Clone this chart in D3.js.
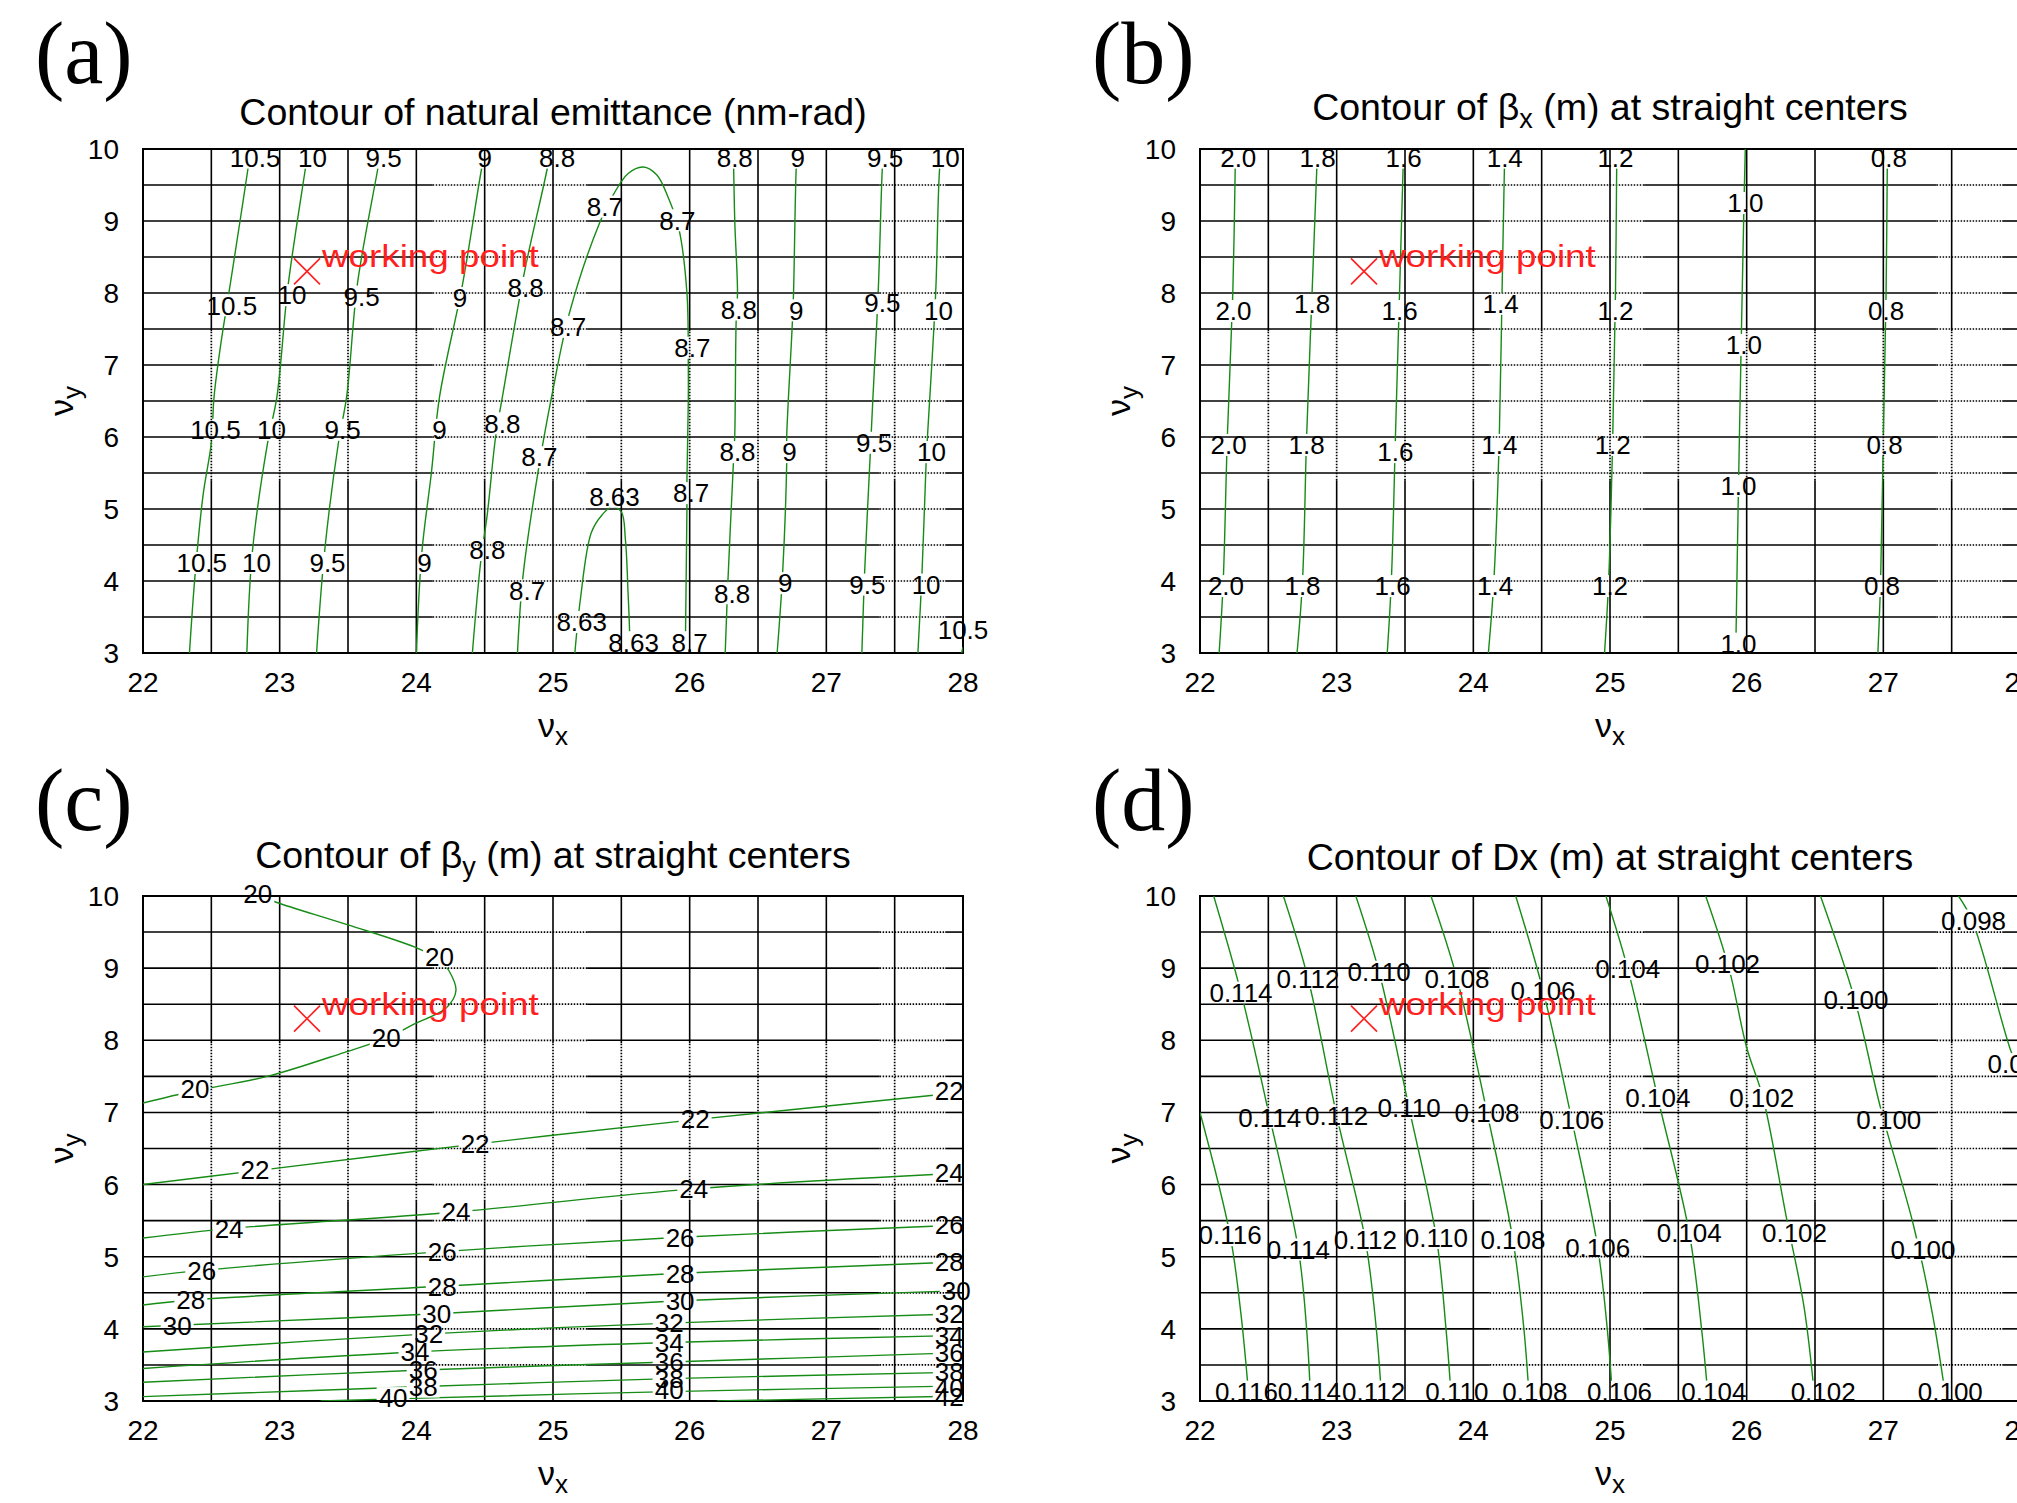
<!DOCTYPE html>
<html>
<head>
<meta charset="utf-8">
<script src="https://cdn.jsdelivr.net/npm/d3@7"></script>
<style>
  body { margin: 0; background: #fff; }
  text { font-family: "Liberation Sans", Arial, sans-serif; fill: #000; }
  .solid { stroke: #000; stroke-width: 1.6; }
  .dot { stroke: #000; stroke-width: 1.7; stroke-dasharray: 1.5 1.5; }
</style>
</head>
<body>
<svg id="fig" width="2017" height="1503"></svg>
<script>
// ---- axes ----
const xTickValues = [22, 23, 24, 25, 26, 27, 28];
const yTickValues = [3, 4, 5, 6, 7, 8, 9, 10];
const gridXValues = [22.5, 23, 23.5, 24, 24.5, 25, 25.5, 26, 26.5, 27, 27.5];
const gridYValues = [3.5, 4, 4.5, 5, 5.5, 6, 6.5, 7, 7.5, 8, 8.5, 9, 9.5];
const workingPoint = [23.2, 8.3];

// ---- (a) natural emittance (nm-rad) ----
const emittanceLines = [
  { level: "10.5", pts: [[22.34,3],[22.38,4.06],[22.44,5.2],[22.50,5.92],[22.52,6.56],[22.57,7.3],[22.64,8.14],[22.71,9.0],[22.77,9.75],[22.79,10]] },
  { level: "10",   pts: [[22.76,3],[22.80,4.4],[22.91,5.9],[22.98,6.56],[23.06,8.08],[23.19,9.75],[23.21,10]] },
  { level: "9.5",  pts: [[23.27,3],[23.33,4.43],[23.43,5.92],[23.49,6.56],[23.57,8.14],[23.72,9.75],[23.74,10]] },
  { level: "9",    pts: [[24.0,3],[24.04,4.39],[24.11,5.5],[24.17,6.56],[24.34,8.14],[24.48,9.75],[24.51,10]] },
  { level: "8.8",  pts: [[24.41,3],[24.47,4.25],[24.52,4.94],[24.58,6.0],[24.63,6.56],[24.79,8.28],[24.96,9.75],[24.98,10]] },
  { level: "8.7",  pts: [[24.74,3],[24.78,4.06],[24.89,5.51],[24.99,6.56],[25.12,7.72],[25.34,8.97],[25.44,9.36],[25.55,9.66],[25.66,9.75],[25.76,9.64],[25.84,9.34],[25.92,8.9],[25.98,8.0],[25.99,7.0],[25.99,6.5],[25.98,5.4],[25.98,5.0],[25.97,3.32],[25.97,3]] },
  { level: "8.63", pts: [[25.16,3],[25.20,3.74],[25.28,4.67],[25.36,4.92],[25.43,5.03],[25.50,4.96],[25.53,4.57],[25.55,3.8],[25.56,3.32],[25.56,3]] },
  { level: "8.8",  pts: [[26.26,3],[26.28,4.0],[26.32,5.64],[26.33,6.03],[26.34,7.6],[26.35,8.0],[26.33,9.0],[26.32,10]] },
  { level: "9",    pts: [[26.64,3],[26.68,4.1],[26.71,5.64],[26.71,6.0],[26.75,7.53],[26.76,8.0],[26.78,9.75],[26.79,10]] },
  { level: "9.5",  pts: [[27.26,3],[27.28,4.11],[27.32,5.71],[27.34,6.51],[27.38,8.04],[27.41,9.75],[27.42,10]] },
  { level: "10",   pts: [[27.67,3],[27.70,4.11],[27.73,5.64],[27.74,6.0],[27.80,8.0],[27.83,9.75],[27.85,10]] },
  { level: "10.5", pts: [[27.99,3],[28.0,3.08]] }
];
const emittanceLabels = [
  ["10.5",22.82,9.88],["10",23.24,9.88],["9.5",23.76,9.88],["9",24.5,9.88],["8.8",25.03,9.88],
  ["8.8",26.33,9.88],["9",26.79,9.88],["9.5",27.43,9.88],["10",27.87,9.88],
  ["10.5",22.65,7.83],["10",23.09,7.97],["9.5",23.6,7.95],["9",24.32,7.93],["8.8",24.8,8.07],
  ["8.7",25.38,9.2],["8.7",25.91,9.01],["8.7",25.11,7.53],["8.7",26.02,7.24],
  ["8.8",26.36,7.77],["9",26.78,7.76],["9.5",27.41,7.86],["10",27.82,7.76],
  ["10.5",22.53,6.1],["10",22.94,6.1],["9.5",23.46,6.1],["9",24.17,6.1],["8.8",24.63,6.19],["8.7",24.9,5.72],
  ["8.63",25.45,5.17],["8.7",26.01,5.22],["8.8",26.35,5.79],["9",26.73,5.79],["9.5",27.35,5.92],["10",27.77,5.79],
  ["10.5",22.43,4.25],["10",22.83,4.25],["9.5",23.35,4.25],["9",24.06,4.25],["8.8",24.52,4.43],["8.7",24.81,3.87],
  ["8.63",25.21,3.43],["8.63",25.59,3.15],["8.7",26.0,3.15],["8.8",26.31,3.83],["9",26.7,3.97],
  ["9.5",27.3,3.95],["10",27.73,3.95],["10.5",28.0,3.33]
];

// ---- (b) beta_x (m) at straight centers ----
const betaXLines = [
  { level: "2.0", pts: [[22.14,3],[22.17,4],[22.2,6],[22.24,8],[22.26,10]] },
  { level: "1.8", pts: [[22.71,3],[22.75,4],[22.78,6],[22.82,8],[22.86,10]] },
  { level: "1.6", pts: [[23.37,3],[23.40,4],[23.43,6],[23.46,8],[23.49,10]] },
  { level: "1.4", pts: [[24.11,3],[24.15,4],[24.19,6],[24.21,8],[24.23,10]] },
  { level: "1.2", pts: [[24.96,3],[24.99,4],[25.02,6],[25.04,8],[25.05,10]] },
  { level: "1.0", pts: [[25.92,3],[25.94,5.3],[25.96,7.3],[25.98,9.2],[25.99,10]] },
  { level: "0.8", pts: [[26.96,3],[26.98,4],[27.0,6],[27.02,8],[27.03,10]] }
];
const betaXLabels = [
  ["2.0",22.28,9.88],["1.8",22.86,9.88],["1.6",23.49,9.88],["1.4",24.23,9.88],["1.2",25.04,9.88],["0.8",27.04,9.88],
  ["1.0",25.99,9.25],
  ["2.0",22.245,7.75],["1.8",22.82,7.85],["1.6",23.46,7.75],["1.4",24.2,7.85],["1.2",25.04,7.75],["0.8",27.02,7.75],
  ["1.0",25.98,7.28],
  ["2.0",22.21,5.89],["1.8",22.78,5.89],["1.6",23.43,5.79],["1.4",24.19,5.89],["1.2",25.02,5.89],["0.8",27.01,5.89],
  ["1.0",25.94,5.32],
  ["2.0",22.19,3.93],["1.8",22.75,3.93],["1.6",23.41,3.93],["1.4",24.16,3.93],["1.2",25.0,3.93],["0.8",26.99,3.93],
  ["1.0",25.94,3.13]
];

// ---- (c) beta_y (m) at straight centers ----
const betaYLines = [
  { level: "20", pts: [[22.0,7.13],[22.38,7.3],[22.91,7.5],[23.47,7.83],[23.78,8.03],[23.99,8.23],[24.22,8.45],[24.29,8.69],[24.24,8.96],[24.17,9.12],[23.99,9.29],[23.5,9.6],[22.98,9.91],[22.86,10.0]] },
  { level: "22", pts: [[22,6.0],[22.82,6.19],[24.43,6.56],[26.04,6.9],[28,7.28]] },
  { level: "24", pts: [[22,5.26],[22.63,5.39],[24.29,5.62],[26.03,5.94],[28,6.16]] },
  { level: "26", pts: [[22,4.72],[22.43,4.81],[24.19,5.07],[25.93,5.27],[28,5.44]] },
  { level: "28", pts: [[22,4.33],[22.35,4.40],[24.19,4.59],[25.93,4.77],[28,4.93]] },
  { level: "30", pts: [[22,4.03],[22.25,4.05],[24.15,4.21],[25.93,4.39],[28,4.53]] },
  { level: "32", pts: [[22,3.68],[24.09,3.93],[25.85,4.08],[28,4.21]] },
  { level: "34", pts: [[22,3.45],[23.99,3.68],[25.85,3.81],[28,3.91]] },
  { level: "36", pts: [[22,3.26],[24.05,3.43],[25.85,3.54],[28,3.67]] },
  { level: "38", pts: [[22,3.06],[24.05,3.20],[25.85,3.31],[28,3.40]] },
  { level: "40", pts: [[23.3,3.0],[23.83,3.03],[25.85,3.13],[28,3.21]] },
  { level: "42", pts: [[26.2,3.0],[28,3.07]] }
];
const betaYLabels = [
  ["20",22.84,10.03],["20",24.17,9.16],["20",23.78,8.03],["20",22.38,7.33],
  ["22",22.82,6.2],["22",24.43,6.56],["22",26.04,6.91],["22",27.9,7.3],
  ["24",22.63,5.39],["24",24.29,5.62],["24",26.03,5.94],["24",27.9,6.16],
  ["26",22.43,4.81],["26",24.19,5.07],["26",25.93,5.27],["26",27.9,5.44],
  ["28",22.35,4.40],["28",24.19,4.59],["28",25.93,4.77],["28",27.9,4.93],
  ["30",22.25,4.05],["30",24.15,4.21],["30",25.93,4.39],["30",27.95,4.53],
  ["32",24.09,3.93],["32",25.85,4.08],["32",27.9,4.21],
  ["34",23.99,3.68],["34",25.85,3.81],["34",27.9,3.91],
  ["36",24.05,3.43],["36",25.85,3.54],["36",27.9,3.67],
  ["38",24.05,3.20],["38",25.85,3.31],["38",27.9,3.40],
  ["40",23.83,3.04],["40",25.85,3.15],["40",27.9,3.19],
  ["42",27.9,3.06]
];

// ---- (d) Dx (m) at straight centers ----
const dispersionLines = [
  { level: "0.116", pts: [[22.0,7.0],[22.22,5.30],[22.30,4.2],[22.36,3.0]] },
  { level: "0.114", pts: [[22.10,10],[22.30,8.66],[22.51,6.93],[22.72,5.10],[22.78,4.0],[22.81,3.0]] },
  { level: "0.112", pts: [[22.61,10],[22.79,8.86],[23.0,6.96],[23.21,5.23],[23.29,4.0],[23.33,3.0]] },
  { level: "0.110", pts: [[23.14,10],[23.31,8.95],[23.53,7.06],[23.73,5.26],[23.80,4.0],[23.84,3.0]] },
  { level: "0.108", pts: [[23.69,10],[23.88,8.86],[24.10,7.0],[24.29,5.23],[24.37,4.0],[24.41,3.0]] },
  { level: "0.106", pts: [[24.31,10],[24.51,8.69],[24.72,6.9],[24.91,5.13],[24.98,4.0],[25.02,3.0]] },
  { level: "0.104", pts: [[24.97,10],[25.13,8.99],[25.35,7.2],[25.58,5.33],[25.67,4.0],[25.72,3.0]] },
  { level: "0.102", pts: [[25.70,10],[25.87,9.0],[26.0,7.9],[26.12,7.2],[26.29,5.55],[26.42,4.3],[26.50,3.0]] },
  { level: "0.100", pts: [[26.54,10],[26.79,8.57],[26.98,7.06],[27.22,5.44],[27.36,4.2],[27.46,3.0]] },
  { level: "0.098", pts: [[27.55,10],[27.65,9.66],[27.93,7.87],[28.0,7.55]] }
];
const dispersionLabels = [
  ["0.114",22.30,8.66],["0.112",22.79,8.86],["0.110",23.31,8.95],["0.108",23.88,8.86],["0.106",24.51,8.69],
  ["0.104",25.13,8.99],["0.102",25.86,9.06],["0.100",26.80,8.56],["0.098",27.66,9.66],
  ["0.114",22.51,6.93],["0.112",23.0,6.96],["0.110",23.53,7.06],["0.108",24.10,7.0],["0.106",24.72,6.9],
  ["0.104",25.35,7.2],["0.102",26.11,7.2],["0.100",27.04,6.9],["0.098",28.0,7.67],
  ["0.116",22.22,5.30],["0.114",22.72,5.10],["0.112",23.21,5.23],["0.110",23.73,5.26],["0.108",24.29,5.23],
  ["0.106",24.91,5.13],["0.104",25.58,5.33],["0.102",26.35,5.33],["0.100",27.29,5.10],
  ["0.116",22.34,3.13],["0.114",22.80,3.13],["0.112",23.27,3.13],["0.110",23.88,3.13],["0.108",24.45,3.13],
  ["0.106",25.07,3.13],["0.104",25.76,3.13],["0.102",26.56,3.13],["0.100",27.49,3.13]
];

// ---- grid rendering bands (solid / dotted stretches of each grid line) ----
const hBands = [[22,24.12,"solid"],[24.12,25.25,"dot"],[25.25,27.39,"solid"],[27.39,27.87,"dot"],[27.87,28,"solid"]];
const vBandsTop = [[3,5.4,"solid"],[5.4,7.47,"dot"],[7.47,10,"solid"]];
const vBandsBottom = [[3,5.77,"solid"],[5.77,7.96,"dot"],[7.96,10,"solid"]];

const W = 2017, H = 1503;
const panels = [
  { key: "a", left: 143, top: 149, width: 820, height: 504, letter: "(a)", titleOffset: 24,
    title: [["Contour of natural emittance (nm-rad)", false]],
    lines: emittanceLines, labels: emittanceLabels, vBands: vBandsTop },
  { key: "b", left: 1200, top: 149, width: 820, height: 504, letter: "(b)", titleOffset: 29,
    title: [["Contour of \u03b2", false], ["x", true], [" (m) at straight centers", false]],
    lines: betaXLines, labels: betaXLabels, vBands: vBandsTop },
  { key: "c", left: 143, top: 896, width: 820, height: 505, letter: "(c)", titleOffset: 28,
    title: [["Contour of \u03b2", false], ["y", true], [" (m) at straight centers", false]],
    lines: betaYLines, labels: betaYLabels, vBands: vBandsBottom },
  { key: "d", left: 1200, top: 896, width: 820, height: 505, letter: "(d)", titleOffset: 26,
    title: [["Contour of Dx (m) at straight centers", false]],
    lines: dispersionLines, labels: dispersionLabels, vBands: vBandsBottom }
];

const svg = d3.select("#fig");
const defs = svg.append("defs");

function drawPanel(p) {
  const g = svg.append("g");
  const x = d3.scaleLinear().domain([22, 28]).range([p.left, p.left + p.width]);
  const y = d3.scaleLinear().domain([3, 10]).range([p.top + p.height, p.top]);

  // grid
  const grid = g.append("g");
  gridYValues.forEach(v => hBands.forEach(b => {
    grid.append("line").attr("class", b[2])
      .attr("x1", x(b[0])).attr("x2", x(b[1])).attr("y1", y(v)).attr("y2", y(v));
  }));
  gridXValues.forEach(v => p.vBands.forEach(b => {
    grid.append("line").attr("class", b[2])
      .attr("x1", x(v)).attr("x2", x(v)).attr("y1", y(b[0])).attr("y2", y(b[1]));
  }));
  g.append("rect").attr("x", x(22)).attr("y", y(10))
    .attr("width", x(28) - x(22)).attr("height", y(3) - y(10))
    .attr("fill", "none").attr("stroke", "#000").attr("stroke-width", 2);

  // contour lines, clipped to the plot and broken where labels sit
  const clipId = "clip-" + p.key, maskId = "mask-" + p.key;
  defs.append("clipPath").attr("id", clipId).append("rect")
    .attr("x", x(22)).attr("y", y(10)).attr("width", x(28) - x(22)).attr("height", y(3) - y(10));
  const mask = defs.append("mask").attr("id", maskId).attr("maskUnits", "userSpaceOnUse")
    .attr("x", 0).attr("y", 0).attr("width", W).attr("height", H);
  mask.append("rect").attr("width", W).attr("height", H).attr("fill", "#fff");

  const line = d3.line().x(d => x(d[0])).y(d => y(d[1])).curve(d3.curveCatmullRom.alpha(0.5));
  g.append("g").attr("clip-path", `url(#${clipId})`)
    .append("g").attr("mask", `url(#${maskId})`)
    .selectAll("path").data(p.lines).join("path")
    .attr("d", d => line(d.pts))
    .attr("fill", "none").attr("stroke", "#168c16").attr("stroke-width", 1.4);

  // contour labels
  const labs = g.append("g").attr("font-size", 26);
  p.labels.forEach(([t, lx, ly]) => {
    const tx = labs.append("text").attr("x", x(lx)).attr("y", y(ly) + 9.3)
      .attr("text-anchor", "middle").text(t);
    const w = tx.node().getComputedTextLength();
    mask.append("rect").attr("x", x(lx) - w / 2 - 2).attr("y", y(ly) - 11)
      .attr("width", w + 4).attr("height", 22).attr("fill", "#000");
  });

  // working point
  const wx = x(workingPoint[0]), wy = y(workingPoint[1]);
  const wp = g.append("g").attr("stroke", "#ff1f1f").attr("stroke-width", 1.6);
  wp.append("line").attr("x1", wx - 13).attr("y1", wy - 13).attr("x2", wx + 13).attr("y2", wy + 13);
  wp.append("line").attr("x1", wx - 13).attr("y1", wy + 13).attr("x2", wx + 13).attr("y2", wy - 13);
  g.append("text").attr("transform", `translate(${wx + 15},${wy - 4}) scale(1.15,1)`)
    .attr("font-size", 32).style("fill", "#ff1f1f").text("working point");

  // tick labels
  g.append("g").attr("font-size", 28).attr("text-anchor", "end")
    .selectAll("text").data(yTickValues).join("text")
    .attr("x", x(22) - 24).attr("y", d => y(d) + 10).text(d => d);
  g.append("g").attr("font-size", 28).attr("text-anchor", "middle")
    .selectAll("text").data(xTickValues).join("text")
    .attr("x", d => x(d)).attr("y", y(3) + 39).text(d => d);

  // axis labels
  const xl = g.append("text").attr("x", (x(22) + x(28)) / 2).attr("y", y(3) + 84)
    .attr("text-anchor", "middle").attr("font-size", 34);
  xl.append("tspan").text("\u03bd");
  xl.append("tspan").attr("font-size", 26).attr("dy", 8).text("x");
  const yl = g.append("text")
    .attr("transform", `translate(${x(22) - 70},${(y(3) + y(10)) / 2}) rotate(-90)`)
    .attr("text-anchor", "middle").attr("font-size", 34);
  yl.append("tspan").text("\u03bd");
  yl.append("tspan").attr("font-size", 26).attr("dy", 8).text("y");

  // title
  const tt = g.append("text").attr("x", (x(22) + x(28)) / 2).attr("y", y(10) - p.titleOffset)
    .attr("text-anchor", "middle").attr("font-size", 37.5);
  let shifted = false;
  p.title.forEach(([s, sub]) => {
    const ts = tt.append("tspan").text(s);
    if (sub) { ts.attr("font-size", 27).attr("dy", 8); shifted = true; }
    else if (shifted) { ts.attr("dy", -8); shifted = false; }
  });

  // panel letter
  g.append("text").attr("x", p.left - 108).attr("y", p.top - 66)
    .style("font-family", "'Liberation Serif', 'Times New Roman', serif")
    .attr("font-size", 88).text(p.letter);
}

panels.forEach(drawPanel);
</script>
</body>
</html>
